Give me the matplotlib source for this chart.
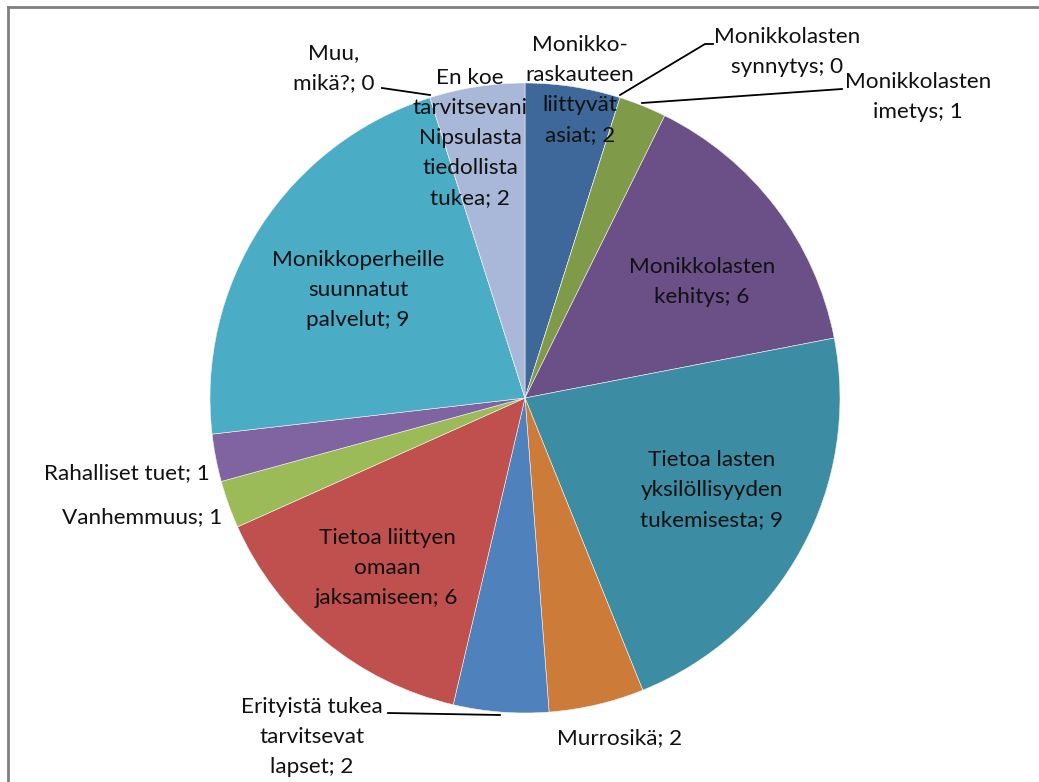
import matplotlib.pyplot as plt
from matplotlib.lines import Line2D

plt.rcParams['font.family'] = ['Lato', 'DejaVu Sans']

# Categories (clockwise from the top) and counts
categories = [
    "Monikko-\nraskauteen\nliittyvät\nasiat",
    "Monikkolasten\nsynnytys",
    "Monikkolasten\nimetys",
    "Monikkolasten\nkehitys",
    "Tietoa lasten\nyksilöllisyyden\ntukemisesta",
    "Murrosikä",
    "Erityistä tukea\ntarvitsevat\nlapset",
    "Tietoa liittyen\nomaan\njaksamiseen",
    "Vanhemmuus",
    "Rahalliset tuet",
    "Monikkoperheille\nsuunnatut\npalvelut",
    "Muu,\nmikä?",
    "En koe\ntarvitsevani\nNipsulasta\ntiedollista\ntukea",
]
values = [2, 0, 1, 6, 9, 2, 2, 6, 1, 1, 9, 0, 2]
colors = ["#3E6899", "#4F81BD", "#7F9A48", "#6A5087", "#3C8DA3", "#CC7B38",
          "#4F81BD", "#C0504D", "#9BBB59", "#8064A2", "#4BACC6", "#A9B8D8",
          "#A9B8D8"]

W, H = 1039, 782
fig = plt.figure(figsize=(W / 100, H / 100), dpi=100)
ax = fig.add_axes([0, 0, 1, 1])

cx, cy, r = 525, 398, 315
# pie in a y-down axes: draw counterclockwise so it appears clockwise
ax.pie(values, colors=colors, startangle=-90, counterclock=True,
       center=(cx, cy), radius=r, frame=True,
       wedgeprops=dict(edgecolor='#f4f4f4', linewidth=0.4))
ax.set_xlim(0, W)
ax.set_ylim(H, 0)
ax.set_aspect('equal')
ax.axis('off')

# label placement (x, y, ha)
pos = [
    (580, 90, 'center'),
    (787, 52, 'center'),
    (918, 97, 'center'),
    (702, 282, 'center'),
    (712, 490, 'center'),
    (620, 738, 'center'),
    (312, 737, 'center'),
    (387, 568, 'center'),
    (222, 517, 'right'),
    (210, 473, 'right'),
    (358, 290, 'center'),
    (334, 68, 'center'),
    (470, 138, 'center'),
]
for cat, v, (x, y, ha) in zip(categories, values, pos):
    ax.text(x, y, f"{cat}; {v}", ha=ha, va='center', fontsize=16.2,
            linespacing=1.62, color='#111111')

# leader lines
leaders = [
    [(620, 95), (705, 44), (713, 44)],
    [(642, 103), (842, 89)],
    [(500, 715), (388, 713)],
    [(430, 95), (382, 88)],
]
for pts in leaders:
    xs, ys = zip(*pts)
    ax.plot(xs, ys, color='black', linewidth=1.3)

# chart frame (top and left edges)
fig.add_artist(Line2D([8 / W, 1], [1 - 7 / H, 1 - 7 / H], color='#808080', linewidth=2))
fig.add_artist(Line2D([8 / W, 8 / W], [0, 1 - 7 / H], color='#808080', linewidth=2))

fig.savefig("out.png", dpi=100)
